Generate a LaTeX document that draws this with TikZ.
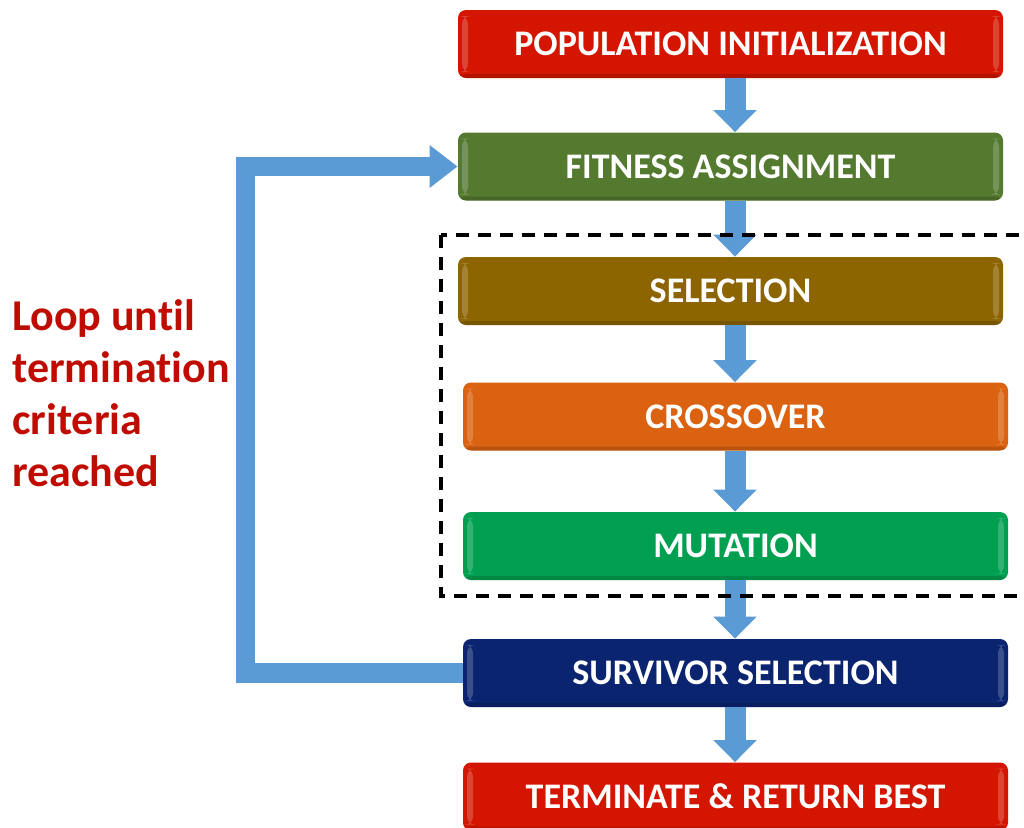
\documentclass[tikz,border=0pt]{standalone}
\usepackage{fontspec}
\setmainfont{Carlito}[Ligatures = NoCommon]
\usetikzlibrary{positioning,arrows.meta}
\definecolor{arrowBlue}{RGB}{91,155,213}
\definecolor{noteRed}{RGB}{192,12,0}
\definecolor{initRed}{RGB}{212,22,0}
\definecolor{fitnessGreen}{RGB}{84,122,48}
\definecolor{selectionBrown}{RGB}{140,100,0}
\definecolor{crossoverOrange}{RGB}{218,98,16}
\definecolor{mutationGreen}{RGB}{0,160,80}
\definecolor{survivorBlue}{RGB}{10,36,112}
\tikzstyle{flowChart} = [x = 0.5pt, y = -0.5pt]
\tikzstyle{stageBox} = [rounded corners = 4pt, minimum width = 272.5pt, minimum height = 34pt, inner sep = 0pt,
  text = white, font = \bfseries\fontsize{18}{20}\selectfont,
  path picture = {
    \fill [white, opacity = .2] ([xshift = 2pt, yshift = -3pt]path picture bounding box.north west) rectangle ([xshift = 5pt, yshift = 3pt]path picture bounding box.south west);
    \fill [white, opacity = .2] ([xshift = -2pt, yshift = -3pt]path picture bounding box.north east) rectangle ([xshift = -5pt, yshift = 3pt]path picture bounding box.south east);
    \fill [black, opacity = .15] ([yshift = 2pt]path picture bounding box.south west) rectangle (path picture bounding box.south east);
  }]
\tikzstyle{flowArrow} = [arrowBlue, line width = 10.5pt, -{Triangle[width = 21pt, length = 11pt]}]
\tikzstyle{loopArrow} = [arrowBlue, line width = 9.75pt, line join = miter, -{Triangle[width = 20.5pt, length = 14pt]}]
\tikzstyle{groupFrame} = [black, line width = 1.6pt, dash pattern = on 6.5pt off 4.5pt]
\tikzstyle{loopNote} = [text = noteRed, align = left, inner sep = 0pt, font = \bfseries\fontsize{22}{26}\selectfont]

\begin{document}
\begin{tikzpicture}[flowChart]
  \useasboundingbox (0,0) rectangle (1024,827);

  % stages
  \node [stageBox, fill = initRed] (popInit) at (730.5, 44) {POPULATION INITIALIZATION};
  \node [stageBox, fill = fitnessGreen] (fitness) at (730.5, 166.5) {FITNESS ASSIGNMENT};
  \node [stageBox, fill = selectionBrown] (selection) at (730.5, 291) {SELECTION};
  \node [stageBox, fill = crossoverOrange] (crossover) at (735.5, 416.5) {CROSSOVER};
  \node [stageBox, fill = mutationGreen] (mutation) at (735.5, 546) {MUTATION};
  \node [stageBox, fill = survivorBlue] (survivor) at (735.5, 673) {SURVIVOR SELECTION};
  \node [stageBox, fill = initRed] (terminate) at (735.5, 796.5) {TERMINATE \& RETURN BEST};

  \coordinate (spine) at (735, 0);
  \coordinate (loopCorner) at (245.5, 0);

  % arrows down the chain
  \draw [flowArrow] (popInit.south -| spine) -- (fitness.north -| spine);
  \draw [flowArrow] (fitness.south -| spine) -- (selection.north -| spine);
  \draw [flowArrow] (selection.south -| spine) -- (crossover.north -| spine);
  \draw [flowArrow] (crossover.south -| spine) -- (mutation.north -| spine);
  \draw [flowArrow] (mutation.south -| spine) -- (survivor.north -| spine);
  \draw [flowArrow] (survivor.south -| spine) -- (terminate.north -| spine);

  % loop back
  \draw [loopArrow] (survivor.west) -- (survivor.west -| loopCorner) |- (fitness.west);

  \draw [groupFrame] (441, 235) rectangle (1040, 596);

  \node [loopNote, anchor = north west] (loopNote) at (12, 299) {Loop until\\termination\\criteria\\reached};
\end{tikzpicture}
\end{document}
